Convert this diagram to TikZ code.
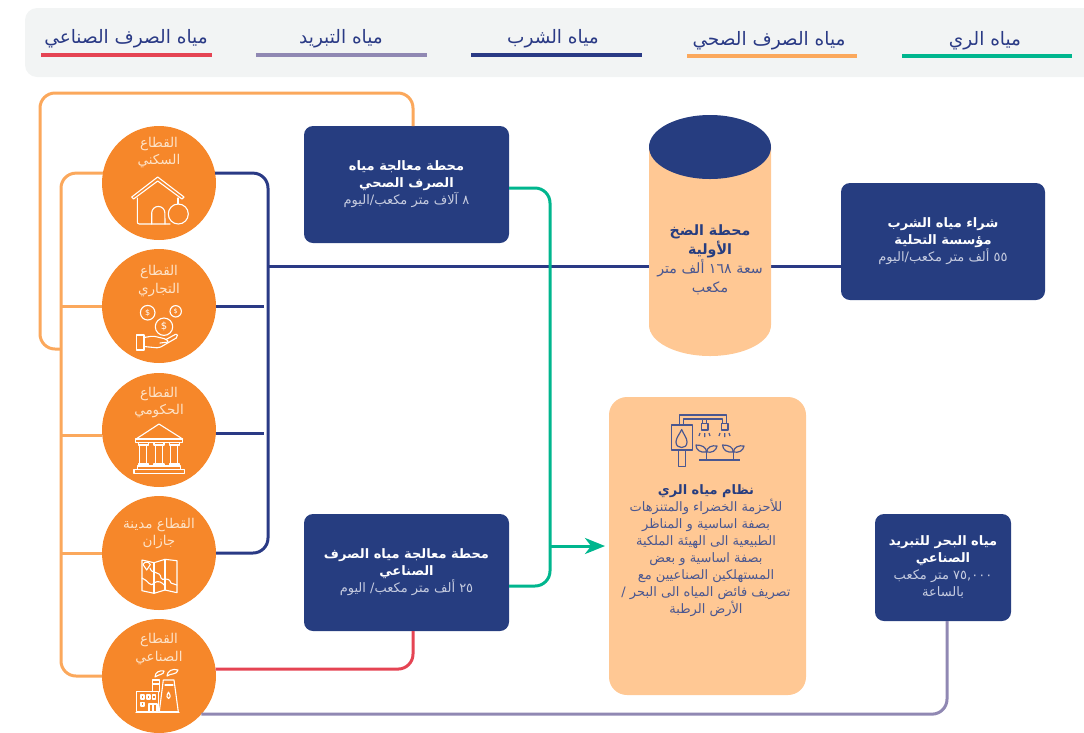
\documentclass[tikz,border=0pt]{standalone}
\usepackage{fontspec}
\usetikzlibrary{arrows.meta}
\TeXXeTstate=1
\newfontfamily\arabicfont[Script=Arabic]{DejaVu Sans}
\newcommand{\AR}[1]{\beginR #1\endR}
\newcommand{\ARB}[1]{{\bfseries\beginR #1\endR}}
\newcommand{\ARW}[1]{{\color{white}\bfseries\beginR #1\endR}}
\definecolor{navy}{HTML}{263D80}
\definecolor{peach}{HTML}{FFC894}
\definecolor{sector}{HTML}{F6872A}
\definecolor{lineorange}{HTML}{FBA85C}
\definecolor{linegreen}{HTML}{00B68E}
\definecolor{linered}{HTML}{E54453}
\definecolor{linepurple}{HTML}{9088B3}
\definecolor{linenavy}{HTML}{2A3A85}
\definecolor{subtext}{HTML}{C6CCE0}
\definecolor{bodytext}{HTML}{4A5790}
\definecolor{labeltext}{HTML}{FDE3C8}
\definecolor{legendbg}{HTML}{F2F4F4}
\tikzset{
  x=1pt,y=-1pt,
  wire/.style={line width=3pt,rounded corners=15pt},
  wireO/.style={wire,draw=lineorange},
  wireN/.style={wire,draw=linenavy},
  wireG/.style={wire,draw=linegreen},
  wireR/.style={wire,draw=linered},
  wireP/.style={wire,draw=linepurple},
  legline/.style={line width=4pt},
  legtext/.style={font=\arabicfont\fontsize{18.5}{20}\selectfont,text=linenavy,inner sep=0pt},
  sectornode/.style={circle,fill=sector,minimum size=114pt,inner sep=0pt,outer sep=0pt},
  sectortext/.style={font=\arabicfont\fontsize{13.5}{17.5}\selectfont,text=labeltext,align=center,inner sep=0pt},
  navybox/.style={rectangle,rounded corners=9pt,fill=navy,inner sep=0pt,outer sep=0pt,
     text=subtext,align=center,font=\arabicfont\fontsize{13}{17}\selectfont},
  icon/.style={draw=white,line width=1.1pt,line join=round,line cap=round,fill=none},
  iconN/.style={draw=bodytext,line width=1.2pt,line join=round,fill=none},
}
\begin{document}
\begin{tikzpicture}
\useasboundingbox (0,0) rectangle (1084,732);
% legend
\fill[legendbg,rounded corners=12pt] (1084,8) -- (25,8) -- (25,77) -- (1084,77);
\node[legtext] (l1) at (126,38.5) {\AR{مياه الصرف الصناعي}};
\node[legtext] (l2) at (341,38.5) {\AR{مياه التبريد}};
\node[legtext] (l3) at (553,38.5) {\AR{مياه الشرب}};
\node[legtext] (l4) at (769,40.5) {\AR{مياه الصرف الصحي}};
\node[legtext] (l5) at (985,40.5) {\AR{مياه الري}};
\draw[legline,linered] (41,54.5) -- (212,54.5);
\draw[legline,linepurple] (256,54.5) -- (427,54.5);
\draw[legline,linenavy] (471,54.5) -- (642,54.5);
\draw[legline,lineorange] (687,56) -- (857,56);
\draw[legline,linegreen] (902,56) -- (1072,56);
% nodes
\node[sectornode] (c1) at (159,183) {};
\node[sectornode] (c2) at (159,306) {};
\node[sectornode] (c3) at (159,430) {};
\node[sectornode] (c4) at (159,553) {};
\node[sectornode] (c5) at (159,676) {};
\node[navybox,minimum width=205pt,minimum height=117pt] (box1) at (406.5,184.5)
 {\ARW{محطة معالجة مياه}\\\ARW{الصرف الصحي}\\\AR{٨ آلاف متر مكعب/اليوم}};
\node[navybox,minimum width=205pt,minimum height=117pt] (box2) at (406.5,572.5)
 {\ARW{محطة معالجة مياه الصرف}\\\ARW{الصناعي}\\\AR{٢٥ ألف متر مكعب/ اليوم}};
\node[navybox,minimum width=204pt,minimum height=117pt] (box3) at (943,241.5)
 {\ARW{شراء مياه الشرب}\\\ARW{مؤسسة التحلية}\\\AR{٥٥ ألف متر مكعب/اليوم}};
\node[navybox,minimum width=136pt,minimum height=107pt] (box4) at (943,567.5)
 {\ARW{مياه البحر للتبريد}\\\ARW{الصناعي}\\\AR{\beginL ٧٥,٠٠٠\endL{} متر مكعب}\\\AR{بالساعة}};
\node[rectangle,rounded corners=18pt,fill=peach,minimum width=197pt,minimum height=298pt,inner sep=0pt,outer sep=0pt] (irr) at (707.5,546) {};
% junctions
\coordinate (oTL) at (40,93);
\coordinate (oJ) at (61,349);
\coordinate (nJ) at (268,266);
\coordinate (gA) at (550,546);
% connectors
\draw[wireO] ([xshift=6.5pt]box1.north) |- (oTL) |- (oJ);
\draw[wireO] (c1.170) -| (oJ) |- (c5.west);
\draw[wireO,rounded corners=0pt] (c2.west) -- (c2.west -| oJ);
\draw[wireO,rounded corners=0pt] (c3.186) -- (c3.186 -| oJ);
\draw[wireO,rounded corners=0pt] (c4.west) -- (c4.west -| oJ);
\draw[wireN] (c1.10) -| (nJ) |- (c4.east);
\draw[wireN,rounded corners=0pt] (c2.east) -- ([xshift=-4pt]c2.east -| nJ);
\draw[wireN,rounded corners=0pt] (c3.-4) -- ([xshift=-4pt]c3.-4 -| nJ);
\draw[wireN,rounded corners=0pt] (nJ) -- ([yshift=-24.5pt]box3.west);
\draw[wireG] ([yshift=-3.5pt]box1.east) -| (gA) |- ([yshift=-13.5pt]box2.east);
\draw[wireG,rounded corners=0pt,-{Stealth[length=20pt,width=16pt,inset=6pt]}] (gA) -- ([xshift=-4pt]irr.west |- gA);
\draw[wireR] ([xshift=6.5pt]box2.south) |- (c5.7);
\draw[wireP] ([xshift=4pt]box4.south) |- (c5.-42);
% cylinder
\fill[peach] (649,147) -- (649,325) arc[start angle=180,end angle=0,x radius=61,y radius=31]  -- (771,147) -- cycle;
\fill[navy] (710,147) ellipse[x radius=61,y radius=32];
\node[font=\arabicfont\fontsize{14.2}{19}\selectfont,text=bodytext,align=center,inner sep=0pt] (cyl) at (710,259.5)
 {\textcolor{navy}{\ARB{محطة الضخ}}\\\textcolor{navy}{\ARB{الأولية}}\\\AR{سعة \beginL ١٦٨\endL{} ألف متر}\\\AR{مكعب}};
% irrigation text
\node[font=\arabicfont\fontsize{13}{17}\selectfont,text=bodytext,align=center,inner sep=0pt] (irrtext) at (706,551)
 {\textcolor{navy}{\ARB{نظام مياه الري}}\\\AR{للأحزمة الخضراء والمتنزهات}\\\AR{بصفة اساسية و المناظر}\\\AR{الطبيعية الى الهيئة الملكية}\\\AR{بصفة اساسية و بعض}\\\AR{المستهلكين الصناعيين مع}\\\AR{تصريف فائض المياه الى البحر /}\\\AR{الأرض الرطبة}};
% sector labels
\node[sectortext] (t1) at (159,152.5) {\AR{القطاع}\\\AR{السكني}};
\node[sectortext] (t2) at (159,281) {\AR{القطاع}\\\AR{التجاري}};
\node[sectortext] (t3) at (159,402.5) {\AR{القطاع}\\\AR{الحكومي}};
\node[sectortext] (t4) at (159,533.5) {\AR{القطاع مدينة}\\\AR{جازان}};
\node[sectortext] (t5) at (159,649) {\AR{القطاع}\\\AR{الصناعي}};
% house icon
\draw[icon] (131.7,197) -- (157.7,177) -- (184,197) -- (182,199) -- (157.7,181) -- (133.5,199) -- cycle;
\draw[icon,rounded corners=2pt] (137.3,198) -- (137.3,224) -- (170,224);
\draw[icon] (178,198) -- (178,204);
\draw[icon] (151.7,224) -- (151.7,213) arc[start angle=180,end angle=360,radius=6.6] -- (165,224);
\draw[icon] (178.3,214) circle[radius=10];
% coins icon
\draw[icon] (147.7,312.7) circle[radius=7.3];
\draw[icon] (175.7,311.3) circle[radius=5.7];
\draw[icon] (164,326.7) circle[radius=8.7];
\node[font=\arabicfont\fontsize{8}{8}\selectfont,text=white,inner sep=0pt] (d1) at (147.7,312.7) {\$};
\node[font=\arabicfont\fontsize{6.5}{6.5}\selectfont,text=white,inner sep=0pt] (d2) at (175.7,311.3) {\$};
\node[font=\arabicfont\fontsize{10}{10}\selectfont,text=white,inner sep=0pt] (d3) at (164,326.7) {\$};
\draw[icon] (136.7,335) rectangle (144,350);
\draw[icon,rounded corners=2pt] (144,337.5) -- (153,336) -- (166,339) -- (169,342) -- (160,343);
\draw[icon,rounded corners=2pt] (166,339.5) -- (177,333.5) -- (178,337) -- (159,348) -- (144,346.5);
% temple icon
\draw[icon] (159,424) -- (136,439) -- (182.7,439) -- cycle;
\draw[icon] (135.3,439) rectangle (182.7,442.7);
\foreach \px in {143.3,159,174.3}{
  \draw[icon] (\px-3.5,445) rectangle (\px+3.5,464);
  \draw[icon] (\px-5,442.7) -- (\px-5,445) -- (\px+5,445) -- (\px+5,442.7);
  \draw[icon] (\px-5,466) -- (\px-5,464) -- (\px+5,464) -- (\px+5,466);
}
\draw[icon] (137.3,466) rectangle (180.7,469.3);
\draw[icon] (134,469.3) rectangle (184.3,473.3);
% map icon
\draw[icon] (142,560) -- (154,562.7) -- (165,559.3) -- (177,560.7) -- (177,592.7) -- (165,590) -- (154,593.3) -- (142,590.7) -- cycle;
\draw[icon] (154,562.7) -- (154,593.3) (165,559.3) -- (165,590);
\draw[icon] (146.7,570) -- (143,564.5) arc[start angle=200,end angle=340,radius=3.9] -- cycle;
\draw[icon] (142,578) .. controls (148,580) and (150,588) .. (154,583) .. controls (158,580) and (162,582) .. (165,586);
\draw[icon] (150,568) .. controls (152,575) and (160,570) .. (161,578) .. controls (162,582) and (168,575) .. (171,583) -- (177,585);
% factory icon
\draw[icon] (136.7,691.7) rectangle (158.3,711.7);
\draw[icon] (141,695) rectangle (144,699);
\draw[icon] (147,695) rectangle (150,699);
\draw[icon] (152.5,695) rectangle (155.5,699);
\draw[icon] (141,702.5) rectangle (144,706);
\draw[icon] (149,711.7) -- (149,704) -- (157,704) -- (157,711.7) (153,704) -- (153,711.7);
\draw[icon] (163.3,680) -- (174,680) -- (178.3,711.7) -- (159.3,711.7) -- cycle;
\draw[icon] (152.7,691.7) -- (152.7,680) -- (159.3,680) -- (159.3,691.7);
\draw[icon] (152.7,684) -- (159.3,684);
\draw[icon] (165,685) -- (173,685);
\draw[icon] (168.5,692) .. controls (166,696) and (167,698.5) .. (168.5,698.5) .. controls (170.5,698.5) and (171,696) .. (168.5,692);
\draw[icon] (155,677) .. controls (155,672) and (160,670) .. (164,671) .. controls (164,675) and (159,674) .. (155,677);
\draw[icon] (167,676) .. controls (167,671) and (173,668) .. (178,670) .. controls (177,675) and (171,673) .. (167,676);
\draw[icon] (136,712.3) -- (179,712.3);
% irrigation icon
\draw[iconN] (671.7,425) rectangle (692.3,450);
\draw[iconN] (678.7,450) rectangle (685.7,466.7);
\draw[iconN] (681.7,429.5) .. controls (679,435) and (676,438) .. (676,442) .. controls (676,446) and (679,447.5) .. (681.7,447.5) .. controls (684.5,447.5) and (687,446) .. (687,442) .. controls (687,438) and (684,435) .. (681.7,429.5) -- cycle;
\draw[iconN] (679.3,425) -- (679.3,415) -- (726.7,415) -- (726.7,423.5);
\draw[iconN] (683.3,425) -- (683.3,419) -- (722.7,419) -- (722.7,423.5);
\draw[iconN] (702.7,419) -- (702.7,423.5) (706.7,419) -- (706.7,423.5);
\draw[iconN] (701.3,423.5) rectangle (708,430);
\draw[iconN] (721.3,423.5) rectangle (728,430);
\draw[iconN] (699,436) -- (700,433) (704.7,437) -- (704.7,433) (710,436) -- (709,433);
\draw[iconN] (719,436) -- (720,433) (724.7,437) -- (724.7,433) (730,436) -- (729,433);
\draw[iconN] (699.3,460) -- (740,460);
\draw[iconN] (706.7,460) -- (706.7,451) (733.3,460) -- (733.3,451);
\draw[iconN] (706.7,452) .. controls (700,453) and (696,450) .. (696,445) .. controls (702,445) and (706,447) .. (706.7,452) -- cycle;
\draw[iconN] (706.7,452) .. controls (707,447) and (712,445) .. (717,446) .. controls (716,451) and (712,453) .. (706.7,452) -- cycle;
\draw[iconN] (733.3,452) .. controls (727,453) and (723,450) .. (722.5,445) .. controls (729,445) and (733,447) .. (733.3,452) -- cycle;
\draw[iconN] (733.3,452) .. controls (734,447) and (739,445) .. (744,446) .. controls (743,451) and (739,453) .. (733.3,452) -- cycle;
\end{tikzpicture}
\end{document}
